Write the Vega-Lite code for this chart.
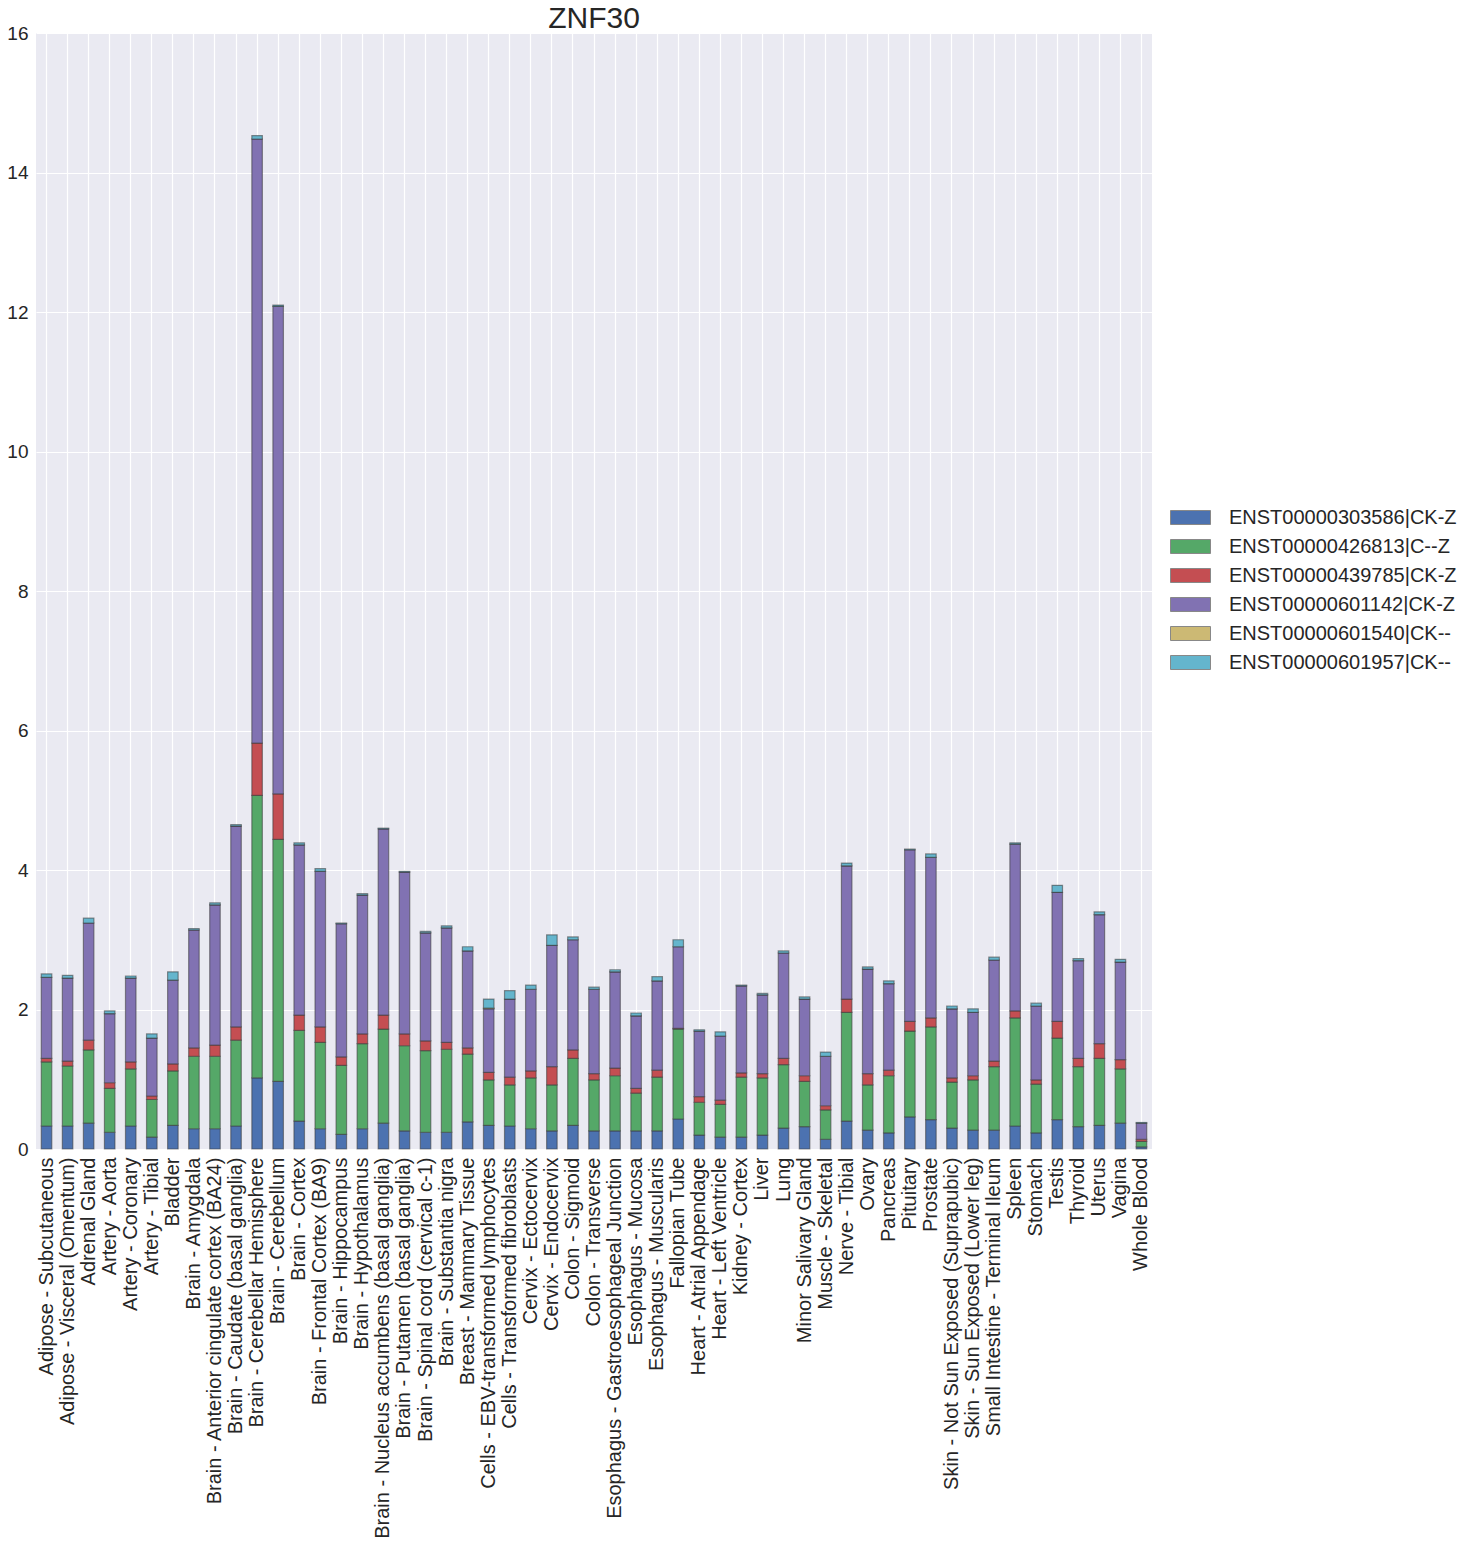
{
  "$schema": "https://vega.github.io/schema/vega-lite/v6.json",
  "autosize": {"type": "none"},
  "width": 1116,
  "height": 1116,
  "padding": {"left": 36, "top": 33, "right": 317, "bottom": 396},
  "background": "white",
  "config": {
    "font": "Liberation Sans",
    "view": {"fill": "#EAEAF2", "stroke": null},
    "axis": {"labelColor": "#262626", "labelFontSize": 19, "domain": false, "ticks": false, "gridColor": "white", "gridWidth": 1.2, "title": null}
  },
  "title": {"text": "ZNF30", "fontSize": 30, "fontWeight": "normal", "color": "#262626", "anchor": "middle", "offset": -10},
  "data": {
    "values": [
      {"tissue": "Adipose - Subcutaneous", "ENST00000303586|CK-Z": 0.33, "ENST00000426813|C--Z": 0.92, "ENST00000439785|CK-Z": 0.05, "ENST00000601142|CK-Z": 1.16, "ENST00000601540|CK--": 0, "ENST00000601957|CK--": 0.05},
      {"tissue": "Adipose - Visceral (Omentum)", "ENST00000303586|CK-Z": 0.33, "ENST00000426813|C--Z": 0.86, "ENST00000439785|CK-Z": 0.07, "ENST00000601142|CK-Z": 1.19, "ENST00000601540|CK--": 0, "ENST00000601957|CK--": 0.04},
      {"tissue": "Adrenal Gland", "ENST00000303586|CK-Z": 0.37, "ENST00000426813|C--Z": 1.05, "ENST00000439785|CK-Z": 0.14, "ENST00000601142|CK-Z": 1.68, "ENST00000601540|CK--": 0, "ENST00000601957|CK--": 0.07},
      {"tissue": "Artery - Aorta", "ENST00000303586|CK-Z": 0.24, "ENST00000426813|C--Z": 0.63, "ENST00000439785|CK-Z": 0.08, "ENST00000601142|CK-Z": 0.99, "ENST00000601540|CK--": 0, "ENST00000601957|CK--": 0.04},
      {"tissue": "Artery - Coronary", "ENST00000303586|CK-Z": 0.33, "ENST00000426813|C--Z": 0.82, "ENST00000439785|CK-Z": 0.10, "ENST00000601142|CK-Z": 1.20, "ENST00000601540|CK--": 0, "ENST00000601957|CK--": 0.03},
      {"tissue": "Artery - Tibial", "ENST00000303586|CK-Z": 0.17, "ENST00000426813|C--Z": 0.54, "ENST00000439785|CK-Z": 0.05, "ENST00000601142|CK-Z": 0.83, "ENST00000601540|CK--": 0, "ENST00000601957|CK--": 0.06},
      {"tissue": "Bladder", "ENST00000303586|CK-Z": 0.34, "ENST00000426813|C--Z": 0.78, "ENST00000439785|CK-Z": 0.10, "ENST00000601142|CK-Z": 1.20, "ENST00000601540|CK--": 0, "ENST00000601957|CK--": 0.12},
      {"tissue": "Brain - Amygdala", "ENST00000303586|CK-Z": 0.29, "ENST00000426813|C--Z": 1.04, "ENST00000439785|CK-Z": 0.12, "ENST00000601142|CK-Z": 1.69, "ENST00000601540|CK--": 0, "ENST00000601957|CK--": 0.02},
      {"tissue": "Brain - Anterior cingulate cortex (BA24)", "ENST00000303586|CK-Z": 0.29, "ENST00000426813|C--Z": 1.04, "ENST00000439785|CK-Z": 0.16, "ENST00000601142|CK-Z": 2.01, "ENST00000601540|CK--": 0, "ENST00000601957|CK--": 0.03},
      {"tissue": "Brain - Caudate (basal ganglia)", "ENST00000303586|CK-Z": 0.33, "ENST00000426813|C--Z": 1.23, "ENST00000439785|CK-Z": 0.19, "ENST00000601142|CK-Z": 2.88, "ENST00000601540|CK--": 0, "ENST00000601957|CK--": 0.02},
      {"tissue": "Brain - Cerebellar Hemisphere", "ENST00000303586|CK-Z": 1.02, "ENST00000426813|C--Z": 4.05, "ENST00000439785|CK-Z": 0.75, "ENST00000601142|CK-Z": 8.66, "ENST00000601540|CK--": 0, "ENST00000601957|CK--": 0.05},
      {"tissue": "Brain - Cerebellum", "ENST00000303586|CK-Z": 0.97, "ENST00000426813|C--Z": 3.47, "ENST00000439785|CK-Z": 0.65, "ENST00000601142|CK-Z": 6.99, "ENST00000601540|CK--": 0, "ENST00000601957|CK--": 0.02},
      {"tissue": "Brain - Cortex", "ENST00000303586|CK-Z": 0.40, "ENST00000426813|C--Z": 1.30, "ENST00000439785|CK-Z": 0.22, "ENST00000601142|CK-Z": 2.44, "ENST00000601540|CK--": 0, "ENST00000601957|CK--": 0.03},
      {"tissue": "Brain - Frontal Cortex (BA9)", "ENST00000303586|CK-Z": 0.29, "ENST00000426813|C--Z": 1.24, "ENST00000439785|CK-Z": 0.22, "ENST00000601142|CK-Z": 2.23, "ENST00000601540|CK--": 0, "ENST00000601957|CK--": 0.04},
      {"tissue": "Brain - Hippocampus", "ENST00000303586|CK-Z": 0.21, "ENST00000426813|C--Z": 0.99, "ENST00000439785|CK-Z": 0.12, "ENST00000601142|CK-Z": 1.91, "ENST00000601540|CK--": 0, "ENST00000601957|CK--": 0.01},
      {"tissue": "Brain - Hypothalamus", "ENST00000303586|CK-Z": 0.29, "ENST00000426813|C--Z": 1.22, "ENST00000439785|CK-Z": 0.14, "ENST00000601142|CK-Z": 1.99, "ENST00000601540|CK--": 0, "ENST00000601957|CK--": 0.02},
      {"tissue": "Brain - Nucleus accumbens (basal ganglia)", "ENST00000303586|CK-Z": 0.37, "ENST00000426813|C--Z": 1.35, "ENST00000439785|CK-Z": 0.20, "ENST00000601142|CK-Z": 2.67, "ENST00000601540|CK--": 0, "ENST00000601957|CK--": 0.01},
      {"tissue": "Brain - Putamen (basal ganglia)", "ENST00000303586|CK-Z": 0.26, "ENST00000426813|C--Z": 1.22, "ENST00000439785|CK-Z": 0.17, "ENST00000601142|CK-Z": 2.32, "ENST00000601540|CK--": 0, "ENST00000601957|CK--": 0.01},
      {"tissue": "Brain - Spinal cord (cervical c-1)", "ENST00000303586|CK-Z": 0.24, "ENST00000426813|C--Z": 1.17, "ENST00000439785|CK-Z": 0.14, "ENST00000601142|CK-Z": 1.55, "ENST00000601540|CK--": 0, "ENST00000601957|CK--": 0.02},
      {"tissue": "Brain - Substantia nigra", "ENST00000303586|CK-Z": 0.24, "ENST00000426813|C--Z": 1.19, "ENST00000439785|CK-Z": 0.10, "ENST00000601142|CK-Z": 1.64, "ENST00000601540|CK--": 0, "ENST00000601957|CK--": 0.03},
      {"tissue": "Breast - Mammary Tissue", "ENST00000303586|CK-Z": 0.39, "ENST00000426813|C--Z": 0.97, "ENST00000439785|CK-Z": 0.09, "ENST00000601142|CK-Z": 1.39, "ENST00000601540|CK--": 0, "ENST00000601957|CK--": 0.06},
      {"tissue": "Cells - EBV-transformed lymphocytes", "ENST00000303586|CK-Z": 0.34, "ENST00000426813|C--Z": 0.65, "ENST00000439785|CK-Z": 0.11, "ENST00000601142|CK-Z": 0.91, "ENST00000601540|CK--": 0.01, "ENST00000601957|CK--": 0.13},
      {"tissue": "Cells - Transformed fibroblasts", "ENST00000303586|CK-Z": 0.33, "ENST00000426813|C--Z": 0.59, "ENST00000439785|CK-Z": 0.11, "ENST00000601142|CK-Z": 1.12, "ENST00000601540|CK--": 0, "ENST00000601957|CK--": 0.12},
      {"tissue": "Cervix - Ectocervix", "ENST00000303586|CK-Z": 0.29, "ENST00000426813|C--Z": 0.73, "ENST00000439785|CK-Z": 0.10, "ENST00000601142|CK-Z": 1.17, "ENST00000601540|CK--": 0, "ENST00000601957|CK--": 0.06},
      {"tissue": "Cervix - Endocervix", "ENST00000303586|CK-Z": 0.26, "ENST00000426813|C--Z": 0.66, "ENST00000439785|CK-Z": 0.26, "ENST00000601142|CK-Z": 1.74, "ENST00000601540|CK--": 0, "ENST00000601957|CK--": 0.15},
      {"tissue": "Colon - Sigmoid", "ENST00000303586|CK-Z": 0.34, "ENST00000426813|C--Z": 0.96, "ENST00000439785|CK-Z": 0.12, "ENST00000601142|CK-Z": 1.58, "ENST00000601540|CK--": 0, "ENST00000601957|CK--": 0.04},
      {"tissue": "Colon - Transverse", "ENST00000303586|CK-Z": 0.26, "ENST00000426813|C--Z": 0.73, "ENST00000439785|CK-Z": 0.09, "ENST00000601142|CK-Z": 1.21, "ENST00000601540|CK--": 0, "ENST00000601957|CK--": 0.03},
      {"tissue": "Esophagus - Gastroesophageal Junction", "ENST00000303586|CK-Z": 0.26, "ENST00000426813|C--Z": 0.79, "ENST00000439785|CK-Z": 0.11, "ENST00000601142|CK-Z": 1.38, "ENST00000601540|CK--": 0, "ENST00000601957|CK--": 0.03},
      {"tissue": "Esophagus - Mucosa", "ENST00000303586|CK-Z": 0.26, "ENST00000426813|C--Z": 0.54, "ENST00000439785|CK-Z": 0.07, "ENST00000601142|CK-Z": 1.04, "ENST00000601540|CK--": 0, "ENST00000601957|CK--": 0.04},
      {"tissue": "Esophagus - Muscularis", "ENST00000303586|CK-Z": 0.26, "ENST00000426813|C--Z": 0.77, "ENST00000439785|CK-Z": 0.10, "ENST00000601142|CK-Z": 1.28, "ENST00000601540|CK--": 0, "ENST00000601957|CK--": 0.06},
      {"tissue": "Fallopian Tube", "ENST00000303586|CK-Z": 0.43, "ENST00000426813|C--Z": 1.29, "ENST00000439785|CK-Z": 0.01, "ENST00000601142|CK-Z": 1.17, "ENST00000601540|CK--": 0, "ENST00000601957|CK--": 0.10},
      {"tissue": "Heart - Atrial Appendage", "ENST00000303586|CK-Z": 0.20, "ENST00000426813|C--Z": 0.47, "ENST00000439785|CK-Z": 0.08, "ENST00000601142|CK-Z": 0.94, "ENST00000601540|CK--": 0, "ENST00000601957|CK--": 0.02},
      {"tissue": "Heart - Left Ventricle", "ENST00000303586|CK-Z": 0.17, "ENST00000426813|C--Z": 0.47, "ENST00000439785|CK-Z": 0.06, "ENST00000601142|CK-Z": 0.92, "ENST00000601540|CK--": 0, "ENST00000601957|CK--": 0.06},
      {"tissue": "Kidney - Cortex", "ENST00000303586|CK-Z": 0.17, "ENST00000426813|C--Z": 0.86, "ENST00000439785|CK-Z": 0.06, "ENST00000601142|CK-Z": 1.25, "ENST00000601540|CK--": 0, "ENST00000601957|CK--": 0.01},
      {"tissue": "Liver", "ENST00000303586|CK-Z": 0.20, "ENST00000426813|C--Z": 0.82, "ENST00000439785|CK-Z": 0.06, "ENST00000601142|CK-Z": 1.13, "ENST00000601540|CK--": 0, "ENST00000601957|CK--": 0.02},
      {"tissue": "Lung", "ENST00000303586|CK-Z": 0.30, "ENST00000426813|C--Z": 0.91, "ENST00000439785|CK-Z": 0.09, "ENST00000601142|CK-Z": 1.51, "ENST00000601540|CK--": 0, "ENST00000601957|CK--": 0.03},
      {"tissue": "Minor Salivary Gland", "ENST00000303586|CK-Z": 0.32, "ENST00000426813|C--Z": 0.65, "ENST00000439785|CK-Z": 0.08, "ENST00000601142|CK-Z": 1.10, "ENST00000601540|CK--": 0, "ENST00000601957|CK--": 0.03},
      {"tissue": "Muscle - Skeletal", "ENST00000303586|CK-Z": 0.14, "ENST00000426813|C--Z": 0.42, "ENST00000439785|CK-Z": 0.06, "ENST00000601142|CK-Z": 0.71, "ENST00000601540|CK--": 0, "ENST00000601957|CK--": 0.06},
      {"tissue": "Nerve - Tibial", "ENST00000303586|CK-Z": 0.40, "ENST00000426813|C--Z": 1.56, "ENST00000439785|CK-Z": 0.19, "ENST00000601142|CK-Z": 1.91, "ENST00000601540|CK--": 0, "ENST00000601957|CK--": 0.04},
      {"tissue": "Ovary", "ENST00000303586|CK-Z": 0.27, "ENST00000426813|C--Z": 0.65, "ENST00000439785|CK-Z": 0.16, "ENST00000601142|CK-Z": 1.50, "ENST00000601540|CK--": 0, "ENST00000601957|CK--": 0.03},
      {"tissue": "Pancreas", "ENST00000303586|CK-Z": 0.23, "ENST00000426813|C--Z": 0.82, "ENST00000439785|CK-Z": 0.08, "ENST00000601142|CK-Z": 1.24, "ENST00000601540|CK--": 0, "ENST00000601957|CK--": 0.04},
      {"tissue": "Pituitary", "ENST00000303586|CK-Z": 0.46, "ENST00000426813|C--Z": 1.23, "ENST00000439785|CK-Z": 0.14, "ENST00000601142|CK-Z": 2.46, "ENST00000601540|CK--": 0, "ENST00000601957|CK--": 0.01},
      {"tissue": "Prostate", "ENST00000303586|CK-Z": 0.42, "ENST00000426813|C--Z": 1.33, "ENST00000439785|CK-Z": 0.13, "ENST00000601142|CK-Z": 2.30, "ENST00000601540|CK--": 0, "ENST00000601957|CK--": 0.05},
      {"tissue": "Skin - Not Sun Exposed (Suprapubic)", "ENST00000303586|CK-Z": 0.30, "ENST00000426813|C--Z": 0.66, "ENST00000439785|CK-Z": 0.06, "ENST00000601142|CK-Z": 0.99, "ENST00000601540|CK--": 0, "ENST00000601957|CK--": 0.04},
      {"tissue": "Skin - Sun Exposed (Lower leg)", "ENST00000303586|CK-Z": 0.27, "ENST00000426813|C--Z": 0.72, "ENST00000439785|CK-Z": 0.06, "ENST00000601142|CK-Z": 0.91, "ENST00000601540|CK--": 0, "ENST00000601957|CK--": 0.05},
      {"tissue": "Small Intestine - Terminal Ileum", "ENST00000303586|CK-Z": 0.27, "ENST00000426813|C--Z": 0.91, "ENST00000439785|CK-Z": 0.08, "ENST00000601142|CK-Z": 1.45, "ENST00000601540|CK--": 0, "ENST00000601957|CK--": 0.04},
      {"tissue": "Spleen", "ENST00000303586|CK-Z": 0.33, "ENST00000426813|C--Z": 1.55, "ENST00000439785|CK-Z": 0.10, "ENST00000601142|CK-Z": 2.39, "ENST00000601540|CK--": 0, "ENST00000601957|CK--": 0.02},
      {"tissue": "Stomach", "ENST00000303586|CK-Z": 0.23, "ENST00000426813|C--Z": 0.70, "ENST00000439785|CK-Z": 0.06, "ENST00000601142|CK-Z": 1.06, "ENST00000601540|CK--": 0, "ENST00000601957|CK--": 0.04},
      {"tissue": "Testis", "ENST00000303586|CK-Z": 0.42, "ENST00000426813|C--Z": 1.17, "ENST00000439785|CK-Z": 0.24, "ENST00000601142|CK-Z": 1.85, "ENST00000601540|CK--": 0, "ENST00000601957|CK--": 0.10},
      {"tissue": "Thyroid", "ENST00000303586|CK-Z": 0.32, "ENST00000426813|C--Z": 0.86, "ENST00000439785|CK-Z": 0.12, "ENST00000601142|CK-Z": 1.40, "ENST00000601540|CK--": 0, "ENST00000601957|CK--": 0.03},
      {"tissue": "Uterus", "ENST00000303586|CK-Z": 0.34, "ENST00000426813|C--Z": 0.96, "ENST00000439785|CK-Z": 0.21, "ENST00000601142|CK-Z": 1.85, "ENST00000601540|CK--": 0, "ENST00000601957|CK--": 0.04},
      {"tissue": "Vagina", "ENST00000303586|CK-Z": 0.37, "ENST00000426813|C--Z": 0.78, "ENST00000439785|CK-Z": 0.13, "ENST00000601142|CK-Z": 1.40, "ENST00000601540|CK--": 0, "ENST00000601957|CK--": 0.04},
      {"tissue": "Whole Blood", "ENST00000303586|CK-Z": 0.03, "ENST00000426813|C--Z": 0.08, "ENST00000439785|CK-Z": 0.03, "ENST00000601142|CK-Z": 0.23, "ENST00000601540|CK--": 0, "ENST00000601957|CK--": 0.01}
    ]
  },
  "transform": [
    {"fold": ["ENST00000303586|CK-Z", "ENST00000426813|C--Z", "ENST00000439785|CK-Z", "ENST00000601142|CK-Z", "ENST00000601540|CK--", "ENST00000601957|CK--"], "as": ["transcript", "value"]}
  ],
  "mark": {"type": "bar", "stroke": "#3a3a3a", "strokeOpacity": 0.55, "strokeWidth": 1.2},
  "encoding": {
    "x": {
      "field": "tissue", "type": "nominal", "sort": null,
      "scale": {"paddingInner": 0.5, "paddingOuter": 0.25},
      "axis": {"labelAngle": -90, "labelPadding": 8, "labelLimit": 0, "labelFontSize": 20, "grid": true, "bandPosition": 0.5}
    },
    "y": {
      "field": "value", "type": "quantitative", "stack": "zero",
      "scale": {"domain": [0, 16], "nice": false},
      "axis": {"values": [0, 2, 4, 6, 8, 10, 12, 14, 16], "labelPadding": 8}
    },
    "color": {
      "field": "transcript", "type": "nominal",
      "scale": {"range": ["#4C72B0", "#55A868", "#C44E52", "#8172B2", "#CCB974", "#64B5CD"]},
      "legend": {
        "title": null, "orient": "none", "legendX": 1144, "legendY": 474,
        "symbolType": "M-2,-0.7L2,-0.7L2,0.7L-2,0.7Z", "symbolSize": 400,
        "symbolStrokeColor": "#888888", "symbolStrokeWidth": 1, "symbolOpacity": 1,
        "labelFontSize": 20, "labelColor": "#262626", "labelOffset": 28, "rowPadding": 8, "labelLimit": 0
      }
    },
    "order": {"field": "transcript"}
  }
}
